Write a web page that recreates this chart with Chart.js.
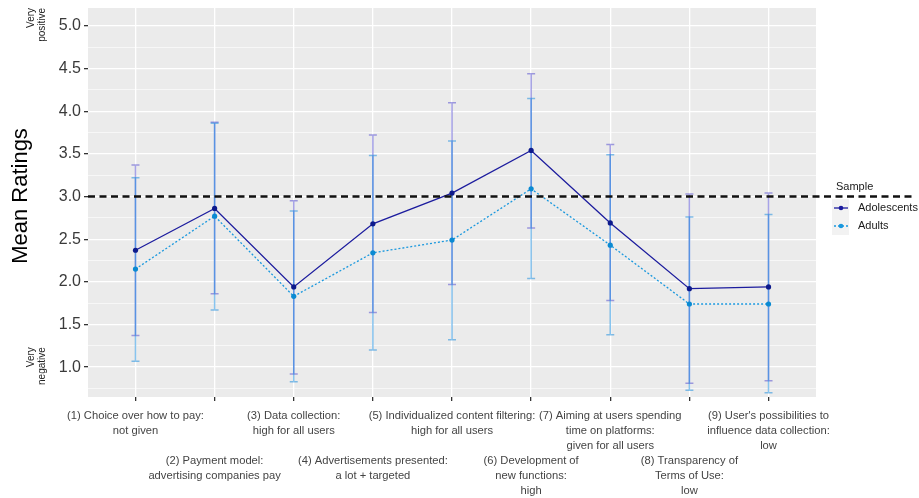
<!DOCTYPE html>
<html>
<head>
<meta charset="utf-8">
<script src="https://cdn.jsdelivr.net/npm/chart.js@4/dist/chart.umd.min.js"></script>
<style>
  html, body { margin: 0; padding: 0; background: #ffffff; }
  #wrap { width: 919px; height: 498px; position: relative; }
</style>
</head>
<body>
<div id="wrap"><canvas id="myChart" width="919" height="498"></canvas></div>
<script>
// # Data
const categories = [
  ["(1) Choice over how to pay:", "not given"],
  ["(2) Payment model:", "advertising companies pay"],
  ["(3) Data collection:", "high for all users"],
  ["(4) Advertisements presented:", "a lot + targeted"],
  ["(5) Individualized content filtering:", "high for all users"],
  ["(6) Development of", "new functions:", "high"],
  ["(7) Aiming at users spending", "time on platforms:", "given for all users"],
  ["(8) Transparency of", "Terms of Use:", "low"],
  ["(9) User's possibilities to", "influence data collection:", "low"]
];

const adolescents = [2.37, 2.86, 1.94, 2.68, 3.04, 3.54, 2.69, 1.92, 1.94];
const adolescentsLow = [1.37, 1.86, 0.92, 1.64, 1.97, 2.63, 1.78, 0.81, 0.84];
const adolescentsHigh = [3.37, 3.87, 2.95, 3.72, 4.10, 4.44, 3.61, 3.03, 3.04];

const adults = [2.15, 2.77, 1.83, 2.34, 2.49, 3.09, 2.43, 1.74, 1.74];
const adultsLow = [1.07, 1.67, 0.83, 1.20, 1.32, 2.04, 1.38, 0.73, 0.70];
const adultsHigh = [3.22, 3.86, 2.83, 3.48, 3.65, 4.15, 3.49, 2.76, 2.79];

const yTicks = [0.75, 1.0, 1.25, 1.5, 1.75, 2.0, 2.25, 2.5, 2.75, 3.0, 3.25, 3.5, 3.75, 4.0, 4.25, 4.5, 4.75, 5.0];
const neutral = 3.0;

const FONT = "'Liberation Sans', Arial, Helvetica, sans-serif";

const isMajor = (v) => Math.abs(v * 2 - Math.round(v * 2)) < 1e-6;
const toPoints = (arr) => arr.map((v, i) => ({ x: i + 1, y: v }));

// # Plugin: grey panel, error bars, reference line, legend, side texts
const ggPlugin = {
  id: "ggPlugin",
  beforeDraw(chart) {
    const { ctx, chartArea: a } = chart;
    ctx.save();
    ctx.fillStyle = "#ebebeb";
    ctx.fillRect(a.left, a.top, a.right - a.left, a.bottom - a.top);
    ctx.restore();
  },
  beforeDatasetsDraw(chart) {
    const { ctx, scales } = chart;
    const bars = [
      { low: adolescentsLow, high: adolescentsHigh, color: "rgba(45,35,200,0.42)" },
      { low: adultsLow, high: adultsHigh, color: "rgba(0,130,222,0.47)" }
    ];
    ctx.save();
    ctx.lineWidth = 1.5;
    bars.forEach((b) => {
      ctx.strokeStyle = b.color;
      b.low.forEach((lo, i) => {
        const x = scales.x.getPixelForValue(i + 1);
        const y1 = scales.y.getPixelForValue(lo);
        const y2 = scales.y.getPixelForValue(b.high[i]);
        ctx.beginPath();
        ctx.moveTo(x, y1); ctx.lineTo(x, y2);
        ctx.moveTo(x - 4, y1); ctx.lineTo(x + 4, y1);
        ctx.moveTo(x - 4, y2); ctx.lineTo(x + 4, y2);
        ctx.stroke();
      });
    });
    ctx.restore();
  },
  afterDatasetsDraw(chart) {
    const { ctx, scales, chartArea: a } = chart;
    const y = scales.y.getPixelForValue(neutral);
    ctx.save();
    ctx.strokeStyle = "#111111";
    ctx.lineWidth = 2.4;
    ctx.setLineDash([7, 4.5]);
    ctx.beginPath();
    ctx.moveTo(a.left, y);
    ctx.lineTo(chart.width - 3, y);
    ctx.stroke();
    ctx.restore();
  },
  afterDraw(chart) {
    const { ctx, scales } = chart;
    ctx.save();

    // y axis title
    ctx.fillStyle = "#000000";
    ctx.font = "22px " + FONT;
    ctx.textAlign = "center";
    ctx.textBaseline = "middle";
    ctx.translate(21, 196);
    ctx.rotate(-Math.PI / 2);
    ctx.fillText("Mean Ratings", 0, 0);
    ctx.setTransform(1, 0, 0, 1, 0, 0);

    // very positive / very negative
    ctx.font = "10px " + FONT;
    ctx.fillStyle = "#222222";
    ctx.textAlign = "right";
    const side = [
      { lines: ["Very", "positive"], top: scales.y.getPixelForValue(5.0) - 18 },
      { lines: ["Very", "negative"], top: scales.y.getPixelForValue(1.0) - 20 }
    ];
    side.forEach((s) => {
      ctx.save();
      ctx.translate(31, s.top);
      ctx.rotate(-Math.PI / 2);
      s.lines.forEach((t, k) => ctx.fillText(t, 0, k * 11));
      ctx.restore();
    });

    // legend
    ctx.textAlign = "left";
    ctx.fillStyle = "#1a1a1a";
    ctx.font = "11px " + FONT;
    ctx.fillText("Sample", 836, 187);
    const keys = [
      { label: chart.data.datasets[0].label, color: chart.data.datasets[0].borderColor, dash: [], y: 208 },
      { label: chart.data.datasets[1].label, color: chart.data.datasets[1].borderColor, dash: [2, 2], y: 226 }
    ];
    keys.forEach((k) => {
      ctx.fillStyle = "#f2f2f2";
      ctx.fillRect(832, k.y - 9, 17, 18);
      ctx.strokeStyle = k.color;
      ctx.lineWidth = 1.3;
      ctx.setLineDash(k.dash);
      ctx.beginPath();
      ctx.moveTo(834, k.y); ctx.lineTo(848, k.y);
      ctx.stroke();
      ctx.setLineDash([]);
      ctx.fillStyle = k.color;
      ctx.beginPath();
      ctx.arc(841, k.y, 2.3, 0, Math.PI * 2);
      ctx.fill();
      ctx.fillStyle = "#1a1a1a";
      ctx.font = "11px " + FONT;
      ctx.fillText(k.label, 858, k.y);
    });
    ctx.restore();
  }
};

// # Create the chart
const chart = document.getElementById("myChart");

new Chart(chart, {
  type: "line",
  data: {
    datasets: [
      {
        label: "Adolescents",
        data: toPoints(adolescents),
        borderColor: "#1c1c9e",
        backgroundColor: "#0d1a8c",
        pointBackgroundColor: "#0d1a8c",
        pointBorderWidth: 0,
        pointRadius: 2.6,
        borderWidth: 1.3,
        tension: 0
      },
      {
        label: "Adults",
        data: toPoints(adults),
        borderColor: "#1a98de",
        backgroundColor: "#0a8ad2",
        pointBackgroundColor: "#0a8ad2",
        pointBorderWidth: 0,
        pointRadius: 2.6,
        borderWidth: 1.3,
        borderDash: [2, 2],
        tension: 0
      }
    ]
  },
  options: {
    responsive: false,
    animation: false,
    devicePixelRatio: 1,
    layout: { padding: { top: 8, right: 103, bottom: 0, left: 0 } },
    plugins: {
      legend: { display: false },
      tooltip: { enabled: false }
    },
    scales: {
      x: {
        type: "linear",
        min: 0.4,
        max: 9.6,
        afterBuildTicks: (scale) => {
          scale.ticks = categories.map((c, i) => ({ value: i + 1 }));
        },
        afterFit: (scale) => { scale.height = 101; },
        grid: { color: "#ffffff", lineWidth: 1.3, tickLength: 4, tickColor: "#333333" },
        border: { display: false },
        ticks: {
          autoSkip: false,
          maxRotation: 0,
          minRotation: 0,
          padding: 7,
          color: "#444444",
          font: { family: FONT, size: 11.2, lineHeight: 1.34 },
          callback: (value) => {
            const lines = categories[value - 1];
            if (!lines) return "";
            return value % 2 === 0 ? ["", "", ""].concat(lines) : lines;
          }
        }
      },
      y: {
        min: 0.65,
        max: 5.21,
        afterBuildTicks: (scale) => {
          scale.ticks = yTicks.map((v) => ({ value: v }));
        },
        afterFit: (scale) => {
          scale.width = 88;
          scale.paddingTop = 0;
          scale.paddingBottom = 0;
        },
        grid: {
          color: "#ffffff",
          lineWidth: (c) => (c.tick && isMajor(c.tick.value) ? 1.3 : 0.6),
          tickLength: 4,
          tickColor: (c) => (c.tick && isMajor(c.tick.value) ? "#333333" : "rgba(0,0,0,0)")
        },
        border: { display: false },
        ticks: {
          padding: 3,
          color: "#3a3a3a",
          font: { family: FONT, size: 16 },
          callback: (v) => (isMajor(v) ? Number(v).toFixed(1) : "")
        }
      }
    }
  },
  plugins: [ggPlugin]
});
</script>
</body>
</html>
